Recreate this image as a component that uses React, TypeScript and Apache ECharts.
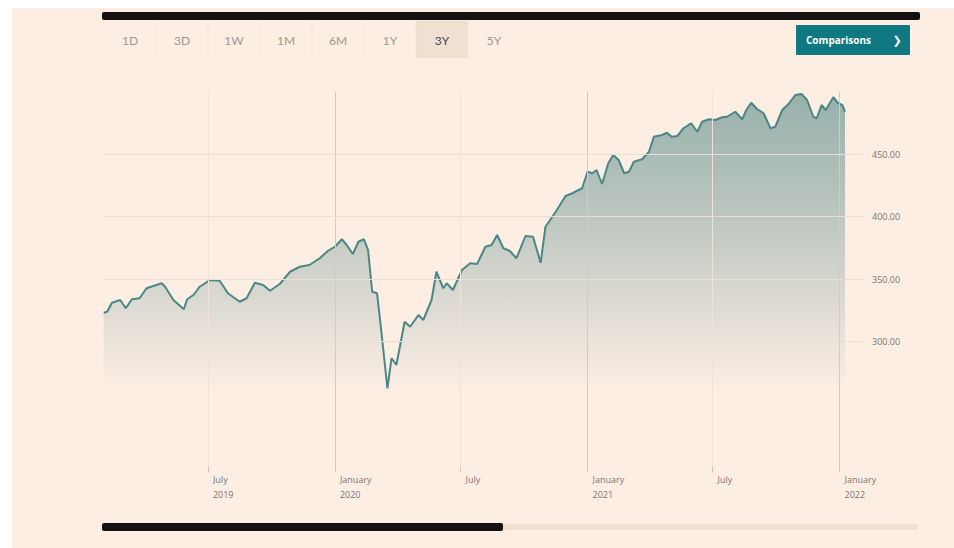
import React, { useEffect, useRef } from "react";
import * as echarts from "echarts";

// ---- data ----
const dates: string[] = [
  "2019-01-31", "2019-02-05", "2019-02-12", "2019-02-24", "2019-03-04", "2019-03-13", "2019-03-24", "2019-04-03",
  "2019-04-13", "2019-04-25", "2019-04-30", "2019-05-12", "2019-05-27", "2019-06-01", "2019-06-10", "2019-06-19",
  "2019-07-04", "2019-07-18", "2019-07-30", "2019-08-16", "2019-08-26", "2019-09-07", "2019-09-19", "2019-09-29",
  "2019-10-13", "2019-10-28", "2019-11-11", "2019-11-25", "2019-12-10", "2019-12-22", "2020-01-01", "2020-01-11",
  "2020-01-18", "2020-01-27", "2020-02-04", "2020-02-12", "2020-02-18", "2020-02-24", "2020-03-02", "2020-03-08",
  "2020-03-17", "2020-03-23", "2020-03-30", "2020-04-11", "2020-04-19", "2020-05-01", "2020-05-08", "2020-05-20",
  "2020-05-27", "2020-06-06", "2020-06-11", "2020-06-20", "2020-07-03", "2020-07-15", "2020-07-25", "2020-08-06",
  "2020-08-15", "2020-08-23", "2020-09-01", "2020-09-10", "2020-09-20", "2020-10-03", "2020-10-14", "2020-10-25",
  "2020-11-01", "2020-11-11", "2020-11-20", "2020-11-30", "2020-12-10", "2020-12-17", "2020-12-24", "2021-01-01",
  "2021-01-08", "2021-01-14", "2021-01-22", "2021-01-31", "2021-02-07", "2021-02-15", "2021-02-23", "2021-03-02",
  "2021-03-09", "2021-03-21", "2021-03-31", "2021-04-07", "2021-04-19", "2021-04-26", "2021-05-03", "2021-05-11",
  "2021-05-20", "2021-05-31", "2021-06-09", "2021-06-16", "2021-06-26", "2021-07-05", "2021-07-15", "2021-07-22",
  "2021-08-03", "2021-08-13", "2021-08-19", "2021-08-26", "2021-09-04", "2021-09-13", "2021-09-23", "2021-09-30",
  "2021-10-10", "2021-10-19", "2021-10-29", "2021-11-07", "2021-11-15", "2021-11-24", "2021-11-29", "2021-12-06",
  "2021-12-12", "2021-12-23", "2021-12-30", "2022-01-05", "2022-01-09",
];

const prices: number[] = [
  323.0, 323.8, 331.0, 333.2, 326.6, 333.8, 334.6, 342.6,
  344.4, 346.6, 343.8, 333.2, 325.8, 333.8, 337.2, 343.8,
  349.2, 348.6, 338.6, 331.8, 334.6, 347.0, 345.2, 340.6,
  346.0, 355.8, 359.8, 361.2, 366.6, 372.6, 375.8, 381.8,
  377.2, 370.0, 379.8, 381.8, 373.2, 339.8, 338.6, 309.2,
  262.6, 286.6, 281.2, 315.8, 311.8, 321.2, 317.2, 333.2,
  355.8, 342.6, 346.6, 341.2, 357.2, 362.6, 362.0, 375.8,
  377.2, 385.2, 374.6, 372.6, 366.6, 384.4, 383.8, 363.0,
  391.8, 399.8, 407.4, 416.4, 418.6, 420.6, 422.6, 435.8,
  434.6, 437.2, 426.0, 442.6, 449.2, 445.2, 434.6, 435.8,
  443.8, 445.8, 451.8, 463.8, 465.2, 467.0, 463.8, 464.4,
  470.6, 474.6, 467.8, 475.8, 477.8, 477.2, 479.4, 479.8,
  483.8, 477.8, 485.2, 491.0, 485.8, 482.6, 470.6, 471.8,
  485.2, 490.0, 497.2, 498.0, 493.2, 479.8, 478.6, 489.2,
  485.2, 495.4, 490.6, 489.2, 483.8,
];

const xTickDates: string[] = ["2019-07-01", "2020-01-01", "2020-07-01", "2021-01-01", "2021-07-01", "2022-01-01"];
const xTickLabels: string[] = ["July\n2019", "January\n2020", "July", "January\n2021", "July", "January\n2022"];
const yGridValues: number[] = [300, 350, 400, 450];
const rangeButtons: string[] = ["1D", "3D", "1W", "1M", "6M", "1Y", "3Y", "5Y"];
const activeRange = "3Y";
const comparisonsLabel = "Comparisons";

const xMinDate = "2019-01-30";
const xMaxDate = "2022-02-04";

function toMs(s: string): number {
  const [y, m, d] = s.split("-").map(Number);
  return Date.UTC(y, m - 1, d);
}

export default function App() {
  const ref = useRef<HTMLDivElement | null>(null);

  useEffect(() => {
    if (!ref.current) return;
    const chart = echarts.init(ref.current, undefined, { renderer: "svg" });

    const tickMs = xTickDates.map(toMs);
    const seriesData = dates.map((d, i) => [toMs(d), prices[i]]);

    const graphics: any[] = [];
    graphics.push({ type: "rect", shape: { x: 102, y: 12, width: 818, height: 8, r: 2 }, style: { fill: "#151111" }, silent: true });
    const btnW = 52;
    const btnX0 = 104;
    rangeButtons.forEach((label, i) => {
      const x = btnX0 + i * btnW;
      if (label === activeRange) {
        graphics.push({ type: "rect", shape: { x: x, y: 21, width: btnW, height: 37 }, style: { fill: "#efe0d2" }, silent: true });
      }
      if (i > 0) {
        graphics.push({ type: "line", shape: { x1: x, y1: 22, x2: x, y2: 57 }, style: { stroke: "#f2e4d8", lineWidth: 1 }, silent: true });
      }
      graphics.push({
        type: "text",
        x: x + btnW / 2,
        y: 40,
        style: {
          text: label,
          fill: label === activeRange ? "#4f4741" : "#a29790",
          font: "12px Lato, 'Open Sans', sans-serif",
          align: "center",
          verticalAlign: "middle",
        },
        silent: true,
      });
    });
    graphics.push({ type: "rect", shape: { x: 796, y: 25, width: 114, height: 30, r: 1 }, style: { fill: "#0f7880" }, silent: true });
    graphics.push({
      type: "text", x: 806, y: 40,
      style: { text: comparisonsLabel, fill: "#ffffff", font: "bold 10px 'Open Sans', sans-serif", align: "left", verticalAlign: "middle" },
      silent: true,
    });
    graphics.push({
      type: "text", x: 897, y: 40,
      style: { text: "❯", fill: "#ffffff", font: "bold 11px 'DejaVu Sans', sans-serif", align: "center", verticalAlign: "middle" },
      silent: true,
    });
    graphics.push({ type: "rect", shape: { x: 102, y: 524, width: 816, height: 6 }, style: { fill: "#eee0d3" }, silent: true });
    graphics.push({ type: "rect", shape: { x: 102, y: 523, width: 401, height: 8, r: 2 }, style: { fill: "#151111" }, silent: true });

    const vLines = xTickDates.map((d, i) => ({
      xAxis: tickMs[i],
      lineStyle: { color: d.endsWith("01-01") ? "#d5cac0" : "#efe3d8", width: 1, type: "solid" },
    }));
    const hLines = yGridValues.map((v) => ({ yAxis: v, lineStyle: { color: "#ebdfd4", width: 1, type: "solid" } }));

    try {
      chart.setOption({
        animation: false,
        backgroundColor: "transparent",
        textStyle: { fontFamily: "'Open Sans', sans-serif" },
        graphic: graphics,
        grid: {
          left: 103,
          right: 91,
          top: 91.5,
          bottom: 81.5,
          containLabel: false,
          outerBoundsMode: "none",
        },
        xAxis: {
          type: "value",
          min: toMs(xMinDate),
          max: toMs(xMaxDate),
          axisLine: { show: false },
          splitLine: { show: false },
          axisTick: {
            show: true,
            customValues: tickMs,
            length: 6,
            lineStyle: { color: "#cdc2b8", width: 1 },
          },
          axisLabel: {
            show: true,
            customValues: tickMs,
            margin: 5,
            align: "left",
            padding: [0, 0, 0, 5],
            fontSize: 9,
            lineHeight: 15,
            color: "#7d746e",
            fontFamily: "'Open Sans', sans-serif",
            formatter: (val: number) => {
              let best = 0;
              let bestD = Infinity;
              tickMs.forEach((t, i) => {
                const dd = Math.abs(t - val);
                if (dd < bestD) { bestD = dd; best = i; }
              });
              return xTickLabels[best];
            },
          },
        },
        yAxis: {
          type: "value",
          position: "right",
          min: 200,
          max: 500,
          interval: 50,
          axisLine: { show: false },
          axisTick: { show: false },
          splitLine: { show: false },
          axisLabel: {
            margin: 9,
            fontSize: 9,
            color: "#7d746e",
            fontFamily: "'Open Sans', sans-serif",
            formatter: (v: number) => (yGridValues.indexOf(v) >= 0 ? v.toFixed(2) : ""),
          },
        },
        series: [
          {
            type: "line",
            data: seriesData,
            showSymbol: false,
            symbol: "none",
            smooth: false,
            z: 3,
            lineStyle: { color: "#4a8786", width: 2 },
            areaStyle: {
              color: new echarts.graphic.LinearGradient(0, 0, 0, 1, [
                { offset: 0, color: "rgba(58,120,118,0.74)" },
                { offset: 0.3, color: "rgba(58,120,118,0.5)" },
                { offset: 0.6, color: "rgba(58,120,118,0.2)" },
                { offset: 0.8, color: "rgba(58,120,118,0)" },
                { offset: 1, color: "rgba(58,120,118,0)" },
              ]),
            },
            markLine: {
              silent: true,
              symbol: ["none", "none"],
              label: { show: false },
              animation: false,
              data: [...vLines, ...hLines],
            },
          },
        ],
      });
    } catch (e) {
      console.error(e);
    }

    return () => chart.dispose();
  }, []);

  return (
    <div style={{ position: "fixed", left: 0, top: 0, width: 954, height: 548, background: "#ffffff" }}>
      <div style={{ position: "absolute", left: 12, top: 8, width: 942, height: 540, background: "#fdeee4" }} />
      <div ref={ref} style={{ position: "absolute", left: 0, top: 0, width: 954, height: 548 }} />
    </div>
  );
}
